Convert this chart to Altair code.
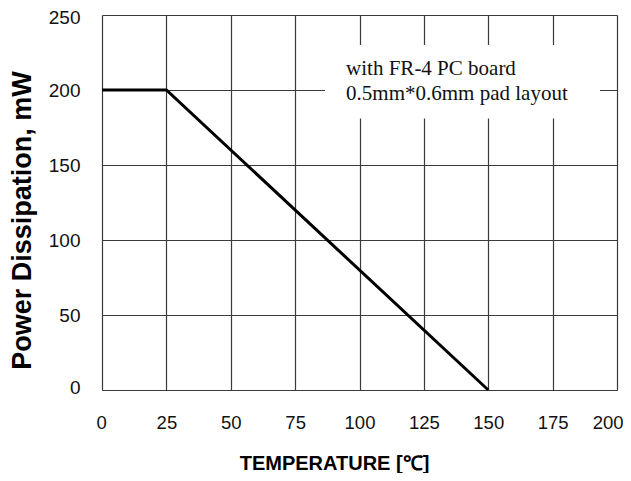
import altair as alt
import pandas as pd

# Data
temps = [0, 25, 150]
power = [200, 200, 0]
x_ticks = [0, 25, 50, 75, 100, 125, 150, 175, 200]
y_ticks = [0, 50, 100, 150, 200, 250]
note_lines = ["with FR-4 PC board", "0.5mm*0.6mm pad layout"]
note_x = [94.8, 94.8]
note_y = [210, 193.3]
box_x = [86.6]
box_x2 = [193.4]
box_y = [181]
box_y2 = [230]

line_df = pd.DataFrame({"t": temps, "p": power})
note_df = pd.DataFrame({"label": note_lines, "x": note_x, "y": note_y})
box_df = pd.DataFrame({"x": box_x, "x2": box_x2, "y": box_y, "y2": box_y2})

xscale = alt.Scale(domain=[0, 200], nice=False, zero=False)
yscale = alt.Scale(domain=[0, 250], nice=False, zero=False)

grid_color = "#3a3a3a"

x_axis = alt.Axis(
    values=x_ticks, title="TEMPERATURE [℃]", grid=True, gridColor=grid_color,
    gridWidth=1.2, gridOpacity=1, domain=False, ticks=False,
    labelFont="Liberation Sans", labelFontSize=18.5, labelColor="#111",
    labelPadding=23, labelFlush=True, labelFlushOffset=6,
    titleFont="Liberation Sans", titleFontSize=20, titleFontWeight="bold",
    titleColor="#000", titleX=232, titleY=73, titleBaseline="middle",
    titleAlign="center", titleAnchor="start",
)
y_axis = alt.Axis(
    values=y_ticks, title="Power Dissipation, mW", grid=True, gridColor=grid_color,
    gridWidth=1.2, gridOpacity=1, domain=False, ticks=False,
    labelFont="Liberation Sans", labelFontSize=19, labelColor="#111",
    labelPadding=22, labelFlush=True, labelFlushOffset=7,
    titleFont="Liberation Sans", titleFontSize=27, titleFontWeight="bold",
    titleColor="#000", titleX=-80, titleY=205, titleAngle=-90,
    titleBaseline="middle", titleAlign="center", titleAnchor="start",
)

line = alt.Chart(line_df).mark_line(color="black", strokeWidth=3).encode(
    x=alt.X("t:Q", scale=xscale, axis=x_axis),
    y=alt.Y("p:Q", scale=yscale, axis=y_axis),
)

box = alt.Chart(box_df).mark_rect(fill="white").encode(
    x=alt.X("x:Q", scale=xscale), x2="x2:Q",
    y=alt.Y("y:Q", scale=yscale), y2="y2:Q",
)

note = alt.Chart(note_df).mark_text(
    font="Liberation Serif", fontSize=21, align="left", baseline="alphabetic",
    color="#111",
).encode(
    x=alt.X("x:Q", scale=xscale),
    y=alt.Y("y:Q", scale=yscale),
    text="label:N",
)

chart = alt.layer(line, box, note).properties(
    width=515, height=375,
    autosize=alt.AutoSizeParams(type="none"),
    padding={"left": 94, "top": 7, "right": 6, "bottom": 83},
).configure_view(stroke=grid_color, strokeWidth=1.5).configure(background="white")

chart.save("out.html", embed_options={"renderer": "svg", "actions": False})
